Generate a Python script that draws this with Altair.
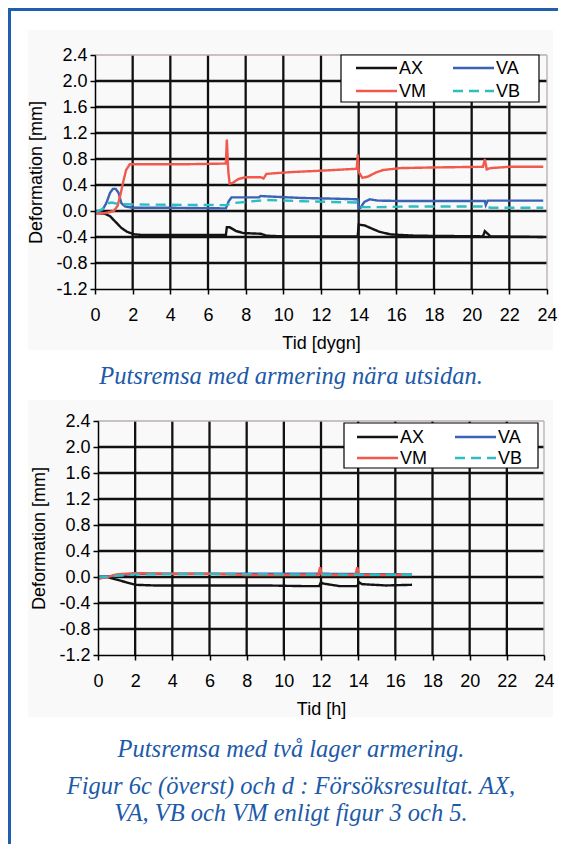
import altair as alt
import pandas as pd

# ---------------- data ----------------
SERIES = ["AX", "VA", "VM", "VB"]
COLORS = ["#141414", "#3a62b5", "#f2584b", "#2dbdc3"]
DASHES = [[1, 0], [1, 0], [1, 0], [10, 6]]

X_TICKS = [0, 2, 4, 6, 8, 10, 12, 14, 16, 18, 20, 22, 24]
Y_TICKS = [-1.2, -0.8, -0.4, 0.0, 0.4, 0.8, 1.2, 1.6, 2.0, 2.4]

# top chart: Tid [dygn]
top_ax_t = [0, 0.5, 0.8, 1.1, 1.4, 1.7, 2.1, 2.6, 6.95, 7.0, 7.15, 7.5, 7.9, 8.8, 9.1, 10.0, 13.95, 14.0, 14.3, 14.7, 15.1, 15.7, 17.0, 20.6, 20.7, 20.85, 21.0, 23.8]
top_ax_v = [-0.03, -0.04, -0.08, -0.17, -0.26, -0.32, -0.36, -0.37, -0.37, -0.25, -0.25, -0.31, -0.34, -0.35, -0.38, -0.39, -0.39, -0.21, -0.22, -0.27, -0.32, -0.36, -0.38, -0.39, -0.31, -0.35, -0.39, -0.40]

top_vm_t = [0, 0.6, 1.0, 1.2, 1.35, 1.5, 1.65, 1.85, 2.5, 5.0, 6.95, 7.0, 7.08, 7.15, 7.3, 7.6, 8.0, 8.8, 8.95, 9.1, 9.5, 10.5, 12.0, 13.9, 13.95, 14.0, 14.2, 14.5, 14.9, 15.3, 16.2, 18.0, 20.6, 20.7, 20.8, 21.0, 22.0, 23.8]
top_vm_v = [-0.04, -0.03, 0.0, 0.08, 0.25, 0.45, 0.63, 0.72, 0.72, 0.72, 0.73, 1.10, 0.60, 0.42, 0.43, 0.49, 0.52, 0.52, 0.50, 0.57, 0.58, 0.60, 0.62, 0.65, 0.87, 0.60, 0.51, 0.53, 0.59, 0.63, 0.66, 0.67, 0.68, 0.80, 0.64, 0.66, 0.68, 0.68]

top_va_t = [0, 0.4, 0.6, 0.8, 0.95, 1.1, 1.25, 1.4, 1.6, 2.0, 4.0, 6.95, 7.1, 7.25, 8.0, 8.7, 8.8, 9.5, 11.0, 12.7, 13.95, 14.0, 14.1, 14.3, 14.6, 15.0, 16.0, 18.0, 20.7, 20.75, 20.85, 23.8]
top_va_v = [-0.03, 0.02, 0.12, 0.28, 0.34, 0.34, 0.28, 0.12, 0.07, 0.05, 0.05, 0.04, 0.15, 0.21, 0.21, 0.21, 0.23, 0.22, 0.20, 0.19, 0.18, 0.04, 0.05, 0.14, 0.18, 0.16, 0.155, 0.155, 0.155, 0.09, 0.16, 0.16]

top_vb_t = [0, 0.4, 0.7, 0.9, 1.2, 2.0, 6.95, 7.3, 8.0, 9.1, 11.0, 13.9, 14.05, 15.0, 17.0, 20.7, 21.0, 23.8]
top_vb_v = [-0.02, 0.03, 0.12, 0.13, 0.11, 0.10, 0.09, 0.12, 0.14, 0.17, 0.15, 0.13, 0.06, 0.06, 0.07, 0.07, 0.05, 0.05]

# bottom chart: Tid [h]
bot_ax_t = [0, 0.5, 1.0, 1.5, 2.0, 3.0, 6.0, 9.0, 11.0, 11.9, 12.0, 12.1, 13.0, 13.95, 14.05, 14.2, 15.5, 16.9]
bot_ax_v = [0.0, 0.0, -0.04, -0.08, -0.12, -0.13, -0.13, -0.13, -0.14, -0.14, -0.08, -0.10, -0.14, -0.14, -0.08, -0.11, -0.13, -0.12]

bot_vm_t = [0, 0.5, 1.0, 2.0, 4.0, 6.0, 8.0, 11.85, 11.95, 12.05, 13.85, 13.95, 14.05, 16.9]
bot_vm_v = [-0.03, 0.0, 0.04, 0.06, 0.05, 0.05, 0.03, 0.03, 0.15, 0.03, 0.03, 0.15, 0.03, 0.03]

bot_va_t = [0, 1.0, 2.0, 5.0, 8.0, 12.0, 14.0, 16.9]
bot_va_v = [0.0, 0.02, 0.05, 0.05, 0.05, 0.05, 0.045, 0.04]

bot_vb_t = [0, 1.0, 2.0, 6.0, 10.0, 14.0, 16.9]
bot_vb_v = [-0.01, 0.02, 0.04, 0.05, 0.04, 0.035, 0.035]

CAPTIONS = [
    "Putsremsa med armering nära utsidan.",
    "Putsremsa med två lager armering.",
    "Figur 6c (överst) och d : Försöksresultat. AX,",
    "VA, VB och VM enligt figur 3 och 5.",
]

# ---------------- layout / style ----------------
W, H = 550, 836
SANS = "Liberation Sans, Arial, sans-serif"
SERIF = "Liberation Serif, Times New Roman, serif"
BLUE = "#1d5aa8"
FS = 18
Y_LABEL_EXPR = "replace(format(datum.value, '.1f'), '\u2212', '-')"


def make_df(parts):
    rows = []
    for name, ts, vs in parts:
        for t, v in zip(ts, vs):
            rows.append({"t": t, "v": v, "series": name})
    return pd.DataFrame(rows)


def one(**kw):
    return pd.DataFrame({k: [v] for k, v in kw.items()})


def panel(df, x_range, y_range, x_title, leg_cols, leg_rows, box):
    xs = alt.Scale(domain=[X_TICKS[0], X_TICKS[-1]], range=x_range, nice=False, zero=False)
    ys = alt.Scale(domain=[Y_TICKS[0], Y_TICKS[-1]], range=y_range, nice=False, zero=False)

    x_axis = alt.Axis(
        values=X_TICKS, orient="bottom", offset=y_range[0] - H, grid=False, zindex=2,
        domainColor="#000000", domainWidth=1.5, tickColor="#000000", tickWidth=1.5,
        tickSize=5, labelFontSize=FS, labelFont=SANS, labelColor="#000000",
        labelPadding=12, format="d", labelFlush=False, labelOverlap=False,
        title=x_title, titleFont=SANS, titleFontSize=FS, titleFontWeight="normal",
        titleColor="#000000", titlePadding=10)
    y_axis = alt.Axis(
        values=Y_TICKS, orient="left", offset=-x_range[0], grid=False, zindex=2,
        domainColor="#000000", domainWidth=1.5, tickColor="#000000", tickWidth=1.5,
        tickSize=5, labelFontSize=FS, labelFont=SANS, labelColor="#000000",
        labelPadding=3, labelExpr=Y_LABEL_EXPR, labelFlush=False, labelOverlap=False,
        title="Deformation [mm]", titleFont=SANS, titleFontSize=FS,
        titleFontWeight="normal", titleColor="#000000", titlePadding=10)

    vgrid = pd.DataFrame({"x": X_TICKS[1:-1], "y0": Y_TICKS[0], "y1": Y_TICKS[-1]})
    hgrid = pd.DataFrame({"y": Y_TICKS[1:-1], "x0": X_TICKS[0], "x1": X_TICKS[-1]})

    grid_v = alt.Chart(vgrid).mark_rule(color="#111111", strokeWidth=2.3).encode(
        x=alt.X("x:Q", scale=xs, axis=x_axis),
        y=alt.Y("y0:Q", scale=ys, axis=y_axis), y2="y1:Q")
    grid_h = alt.Chart(hgrid).mark_rule(color="#111111", strokeWidth=2.3).encode(
        y=alt.Y("y:Q", scale=ys, axis=y_axis),
        x=alt.X("x0:Q", scale=xs, axis=x_axis), x2="x1:Q")
    edge_top = alt.Chart(one(y=Y_TICKS[-1], x0=X_TICKS[0], x1=X_TICKS[-1])).mark_rule(
        color="#b9aeb0", strokeWidth=1.3).encode(
        y=alt.Y("y:Q", scale=ys, axis=y_axis),
        x=alt.X("x0:Q", scale=xs, axis=x_axis), x2="x1:Q")
    edge_right = alt.Chart(one(x=X_TICKS[-1], y0=Y_TICKS[0], y1=Y_TICKS[-1])).mark_rule(
        color="#b9aeb0", strokeWidth=1.3).encode(
        x=alt.X("x:Q", scale=xs, axis=x_axis),
        y=alt.Y("y0:Q", scale=ys, axis=y_axis), y2="y1:Q")

    lines = alt.Chart(df).mark_line(strokeWidth=2.4).encode(
        x=alt.X("t:Q", scale=xs, axis=x_axis),
        y=alt.Y("v:Q", scale=ys, axis=y_axis),
        color=alt.Color("series:N", scale=alt.Scale(domain=SERIES, range=COLORS), legend=None),
        strokeDash=alt.StrokeDash("series:N", scale=alt.Scale(domain=SERIES, range=DASHES), legend=None),
        detail="series:N",
    )

    legbox = alt.Chart(one(k=0)).mark_rect(fill="white", stroke="#000000", strokeWidth=1.2).encode(
        x=alt.value(box[0]), x2=alt.value(box[1]), y=alt.value(box[2]), y2=alt.value(box[3]))

    leg_layers = []
    for i, s in enumerate(SERIES):
        cx = leg_cols[i % 2]
        ry = leg_rows[i // 2]
        leg_layers.append(
            alt.Chart(one(series=s)).mark_rule(
                color=COLORS[i], strokeDash=DASHES[i], strokeWidth=2.5).encode(
                x=alt.value(cx), x2=alt.value(cx + 41), y=alt.value(ry)))
        leg_layers.append(
            alt.Chart(one(series=s)).mark_text(
                font=SANS, fontSize=FS, color="#000000", align="left", baseline="middle").encode(
                text="series:N", x=alt.value(cx + 43), y=alt.value(ry + 0.5)))

    return alt.layer(grid_v, grid_h, edge_top, edge_right, lines, legbox, *leg_layers)


top_df = make_df([("AX", top_ax_t, top_ax_v), ("VA", top_va_t, top_va_v),
                  ("VM", top_vm_t, top_vm_v), ("VB", top_vb_t, top_vb_v)])
bot_df = make_df([("AX", bot_ax_t, bot_ax_v), ("VA", bot_va_t, bot_va_v),
                  ("VM", bot_vm_t, bot_vm_v), ("VB", bot_vb_t, bot_vb_v)])

top = panel(top_df, [87, 539], [281, 47], "Tid [dygn]", (348, 445), (60, 83), (333, 531, 47, 94))
bot = panel(bot_df, [90, 536], [647, 413], "Tid [h]", (349, 447), (429, 450), (336, 530, 415, 460))

bg_top = alt.Chart(one(k=0)).mark_rect(fill="#f9f9f9").encode(
    x=alt.value(20), x2=alt.value(545), y=alt.value(22), y2=alt.value(342))
bg_bot = alt.Chart(one(k=0)).mark_rect(fill="#f9f9f9").encode(
    x=alt.value(20), x2=alt.value(545), y=alt.value(392), y2=alt.value(709))

frame_top = alt.Chart(one(k=0)).mark_rule(color="#1f5fae", strokeWidth=3).encode(
    x=alt.value(0), x2=alt.value(W), y=alt.value(1.5))
frame_left = alt.Chart(one(k=0)).mark_rule(color="#1f5fae", strokeWidth=3).encode(
    x=alt.value(1.5), y=alt.value(0), y2=alt.value(H))

cap_y = [369, 742, 779, 806]
caps = [
    alt.Chart(pd.DataFrame({"txt": [c]})).mark_text(
        font=SERIF, fontStyle="italic", fontSize=24.5, color=BLUE, align="center", baseline="middle"
    ).encode(text="txt:N", x=alt.value(283), y=alt.value(yy))
    for c, yy in zip(CAPTIONS, cap_y)
]

chart = alt.layer(bg_top, bg_bot, top, bot, frame_top, frame_left, *caps).resolve_scale(
    x="independent", y="independent", color="independent", strokeDash="independent"
).properties(
    width=W, height=H, padding=0, background="white",
    autosize=alt.AutoSizeParams(type="none"),
).configure_view(stroke=None)

chart.save("out.html", embed_options={"renderer": "svg", "actions": False})
